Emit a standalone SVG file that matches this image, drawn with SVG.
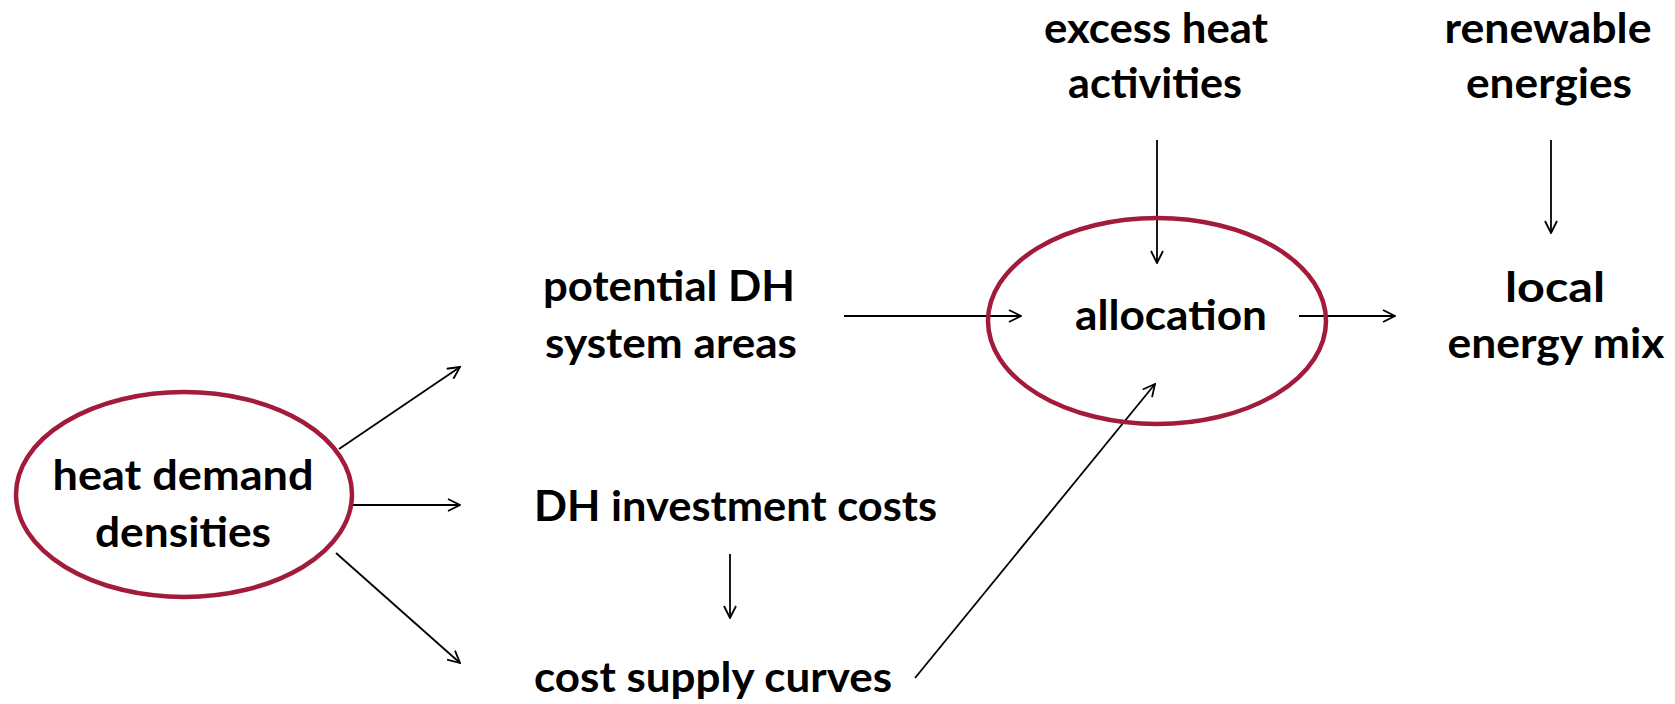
<svg xmlns="http://www.w3.org/2000/svg" width="1675" height="704" viewBox="0 0 1675 704">
  <style>
    .bg { fill: #ffffff; }
    .oval { fill: none; stroke: #A21B3A; stroke-width: 4.5; }
    .lbl { font-family: "Lato", "Liberation Sans", sans-serif; font-weight: bold; font-size: 42px; fill: #000000; text-anchor: middle; }
    .edge { fill: none; stroke: #000000; stroke-width: 1.8; marker-end: url(#arrow); }
  </style>
  <defs>
    <marker id="arrow" viewBox="0 0 14 14" refX="13" refY="7" markerWidth="14" markerHeight="14" markerUnits="userSpaceOnUse" orient="auto">
      <path d="M1,1 L13,7 L1,13" fill="none" stroke="#000000" stroke-width="1.8"/>
    </marker>
  </defs>
  <rect class="bg" x="0" y="0" width="1675" height="704"/>

  <g id="connectors">
    <line class="edge" x1="339" y1="449" x2="460" y2="367"/>
    <line class="edge" x1="353" y1="505" x2="460" y2="505"/>
    <line class="edge" x1="336" y1="553" x2="460" y2="663"/>
    <line class="edge" x1="730" y1="554" x2="730" y2="618"/>
    <line class="edge" x1="844" y1="316" x2="1021" y2="316"/>
    <line class="edge" x1="1157" y1="140" x2="1157" y2="263"/>
    <line class="edge" x1="1551" y1="140" x2="1551" y2="233"/>
    <line class="edge" x1="915" y1="678" x2="1155" y2="384"/>
    <line class="edge" x1="1299" y1="316" x2="1395" y2="316"/>
  </g>

  <g id="heat-demand-densities">
    <ellipse class="oval" cx="184" cy="494.5" rx="168" ry="102.5"/>
    <text class="lbl" x="183" y="490" textLength="261" lengthAdjust="spacingAndGlyphs">heat demand</text>
    <text class="lbl" x="183" y="547" textLength="176" lengthAdjust="spacingAndGlyphs">densities</text>
  </g>

  <g id="potential-dh-system-areas">
    <text class="lbl" x="669" y="301" textLength="252" lengthAdjust="spacingAndGlyphs">potential DH</text>
    <text class="lbl" x="671" y="358" textLength="252" lengthAdjust="spacingAndGlyphs">system areas</text>
  </g>

  <g id="dh-investment-costs">
    <text class="lbl" x="735.5" y="521" textLength="403" lengthAdjust="spacingAndGlyphs">DH investment costs</text>
  </g>

  <g id="cost-supply-curves">
    <text class="lbl" x="713" y="692" textLength="358" lengthAdjust="spacingAndGlyphs">cost supply curves</text>
  </g>

  <g id="allocation">
    <ellipse class="oval" cx="1157" cy="321" rx="169" ry="103"/>
    <text class="lbl" x="1171" y="330" textLength="192" lengthAdjust="spacingAndGlyphs">allocation</text>
  </g>

  <g id="excess-heat-activities">
    <text class="lbl" x="1156" y="43" textLength="224" lengthAdjust="spacingAndGlyphs">excess heat</text>
    <text class="lbl" x="1155" y="98" textLength="174" lengthAdjust="spacingAndGlyphs">activities</text>
  </g>

  <g id="renewable-energies">
    <text class="lbl" x="1548" y="43" textLength="207" lengthAdjust="spacingAndGlyphs">renewable</text>
    <text class="lbl" x="1549" y="98" textLength="166" lengthAdjust="spacingAndGlyphs">energies</text>
  </g>

  <g id="local-energy-mix">
    <text class="lbl" x="1555" y="302" textLength="100" lengthAdjust="spacingAndGlyphs">local</text>
    <text class="lbl" x="1556" y="358" textLength="217" lengthAdjust="spacingAndGlyphs">energy mix</text>
  </g>
</svg>
